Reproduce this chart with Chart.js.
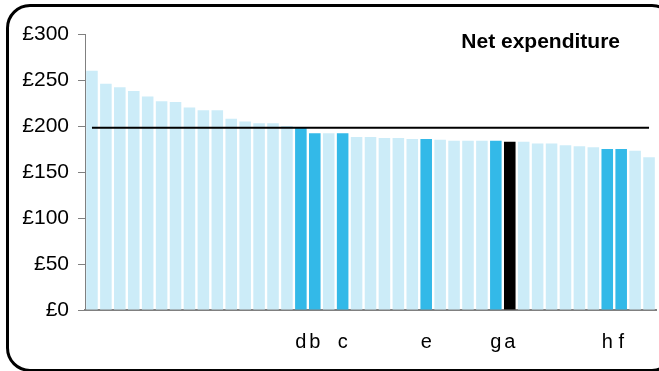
<!DOCTYPE html>
<html>
<head>
<meta charset="utf-8">
<script src="https://cdn.jsdelivr.net/npm/chart.js@4.4.0/dist/chart.umd.min.js"></script>
<style>
  html, body { margin: 0; padding: 0; background: #fff; overflow: hidden; }
  #wrap { position: relative; width: 659px; height: 371px; }
  #frame {
    position: absolute; left: 6px; top: 4px; width: 664px; height: 362px;
    border: 3px solid #000; border-radius: 24px; pointer-events: none;
  }
</style>
</head>
<body>
<div id="wrap">
  <canvas id="netExp" width="659" height="371"></canvas>
  <div id="frame"></div>
</div>
<script>
/* ======= data ====== */
const labels = [
  "", "", "", "", "", "", "", "", "", "", "", "", "", "", "",
  "d", "b", "", "c", "", "", "", "", "", "e", "", "", "", "",
  "g", "a", "", "", "", "", "", "", "h", "f", "", ""
];
const values = [
  260, 246, 242, 238, 232, 227, 226, 220, 217, 217, 208, 205, 203, 203, 200,
  198, 192, 192, 192, 188, 188, 187, 187, 186, 186, 185, 184, 184, 184,
  184, 183, 183, 181, 181, 179, 178, 177, 175, 175, 173, 166
];
// which bars are highlighted: 0 = other, 1 = named, 2 = this authority
const highlight = [
  0, 0, 0, 0, 0, 0, 0, 0, 0, 0, 0, 0, 0, 0, 0,
  1, 1, 0, 1, 0, 0, 0, 0, 0, 1, 0, 0, 0, 0,
  1, 2, 0, 0, 0, 0, 0, 0, 1, 1, 0, 0
];
const average = 198;
const yTicks = [0, 50, 100, 150, 200, 250, 300];

const barColors = ["#CCECF8", "#33B9E8", "#000000"];

/* ======= title plugin ====== */
const cornerTitle = {
  id: "cornerTitle",
  afterDraw(chart) {
    const { ctx, chartArea } = chart;
    ctx.save();
    ctx.font = "bold 21px 'Liberation Sans', Arial, sans-serif";
    ctx.fillStyle = "#000";
    ctx.textAlign = "right";
    ctx.textBaseline = "alphabetic";
    ctx.fillText("Net expenditure", chartArea.right - 36, 48);
    ctx.restore();
  }
};

function netExpenditure(selector) {
  var ctx = document.getElementById(selector);
  if (ctx) {
    new Chart(ctx, {
      type: "bar",
      data: {
        labels: labels,
        datasets: [{
          type: "line",
          data: labels.map(() => average),
          borderColor: "#000",
          borderWidth: 2,
          pointRadius: 0,
          order: 0,
        }, {
          data: values,
          backgroundColor: highlight.map(h => barColors[h]),
          categoryPercentage: 1,
          barPercentage: 0.83,
          order: 1,
        }],
      },
      plugins: [cornerTitle],
      options: {
        responsive: false,
        animation: false,
        plugins: {
          legend: { display: false },
          tooltip: { enabled: false },
        },
        layout: {
          padding: { left: 22, right: 3, top: 34, bottom: 0 }
        },
        scales: {
          y: {
            min: 0,
            max: 300,
            afterBuildTicks(scale) {
              scale.ticks = yTicks.map(v => ({ value: v }));
            },
            afterFit(scale) {
              scale.width = 63;
            },
            grid: {
              display: true,
              drawOnChartArea: false,
              drawTicks: true,
              tickLength: 7,
              color: "#808080",
            },
            border: { display: true, color: "#808080", width: 1 },
            ticks: {
              color: "#000",
              padding: 9,
              font: { family: "'Liberation Sans', Arial, sans-serif", size: 21 },
              callback: v => "£" + v,
            },
          },
          x: {
            afterFit(scale) {
              scale.height = 61;
              scale.paddingLeft = 0;
              scale.paddingRight = 0;
            },
            grid: { display: false, drawTicks: false },
            border: { display: true, color: "#808080", width: 2 },
            ticks: {
              color: "#000",
              autoSkip: false,
              maxRotation: 0,
              padding: 20,
              font: { family: "'Liberation Sans', Arial, sans-serif", size: 20 },
            },
          },
        },
      },
    });
  }
}
netExpenditure("netExp");
</script>
</body>
</html>
